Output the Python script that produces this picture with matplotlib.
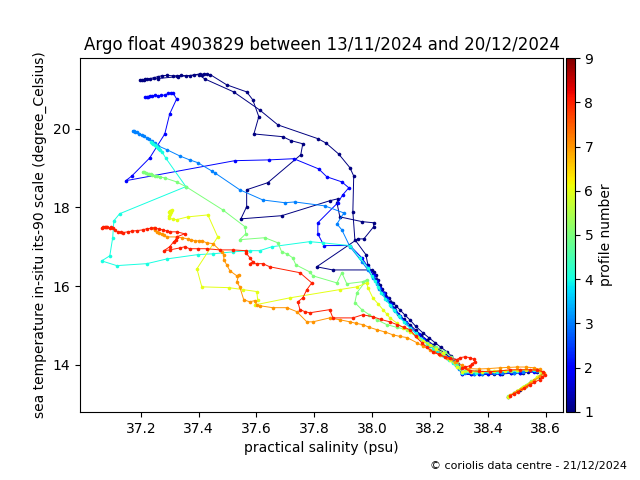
import matplotlib
matplotlib.use("Agg")
import matplotlib.pyplot as plt

# profile 1 (two navy branches), then profiles 2..8: salinity (psu), temperature (degC)
sal_1a = [37.197, 37.205, 37.213, 37.22, 37.232, 37.245, 37.26, 37.273, 37.29, 37.31, 37.324,
          37.34, 37.355, 37.369, 37.385, 37.404, 37.41, 37.418, 37.43, 37.44, 37.497, 37.566,
          37.587, 37.608, 37.591, 37.691, 37.719, 37.76, 37.753, 37.639, 37.566, 37.566, 37.546,
          37.687, 37.853, 37.881, 37.878, 37.888, 37.964, 38.005, 38.005, 37.971, 37.95, 37.808,
          37.864, 37.999, 38.005, 38.012, 38.02, 38.026, 38.035, 38.043, 38.057, 38.071, 38.083,
          38.095, 38.112, 38.13, 38.15, 38.175, 38.195, 38.217, 38.238, 38.258, 38.272, 38.285,
          38.295, 38.30, 38.31, 38.34, 38.37, 38.40, 38.44, 38.48, 38.51, 38.54, 38.57, 38.59,
          38.575, 38.55, 38.53, 38.51, 38.49, 38.47]
temp_1a = [21.246, 21.25, 21.26, 21.27, 21.28, 21.30, 21.33, 21.35, 21.36, 21.35, 21.35,
           21.36, 21.35, 21.35, 21.37, 21.40, 21.38, 21.40, 21.39, 21.38, 21.12, 20.94,
           20.74, 20.31, 19.87, 19.80, 19.70, 19.62, 19.34, 18.63, 18.45, 18.02, 17.71,
           17.79, 18.17, 18.22, 18.12, 17.76, 17.64, 17.61, 17.51, 17.20, 17.20, 16.49,
           16.41, 16.41, 16.35, 16.29, 16.15, 16.03, 15.93, 15.83, 15.70, 15.58, 15.49,
           15.40, 15.27, 15.14, 14.98, 14.81, 14.69, 14.56, 14.44, 14.33, 14.23, 14.13,
           14.02, 13.92, 13.76, 13.75, 13.75, 13.76, 13.77, 13.78, 13.80, 13.81, 13.82, 13.78,
           13.68, 13.56, 13.45, 13.35, 13.27, 13.19]

sal_1b = [37.21, 37.26, 37.33, 37.40, 37.421, 37.521, 37.611, 37.674, 37.812, 37.84, 37.884,
          37.923, 37.936, 37.933, 37.94, 37.978, 37.985, 38.002, 38.01, 38.02, 38.03, 38.045,
          38.06, 38.075, 38.09, 38.11, 38.13, 38.15, 38.17, 38.19, 38.21, 38.23, 38.25, 38.27,
          38.29, 38.31, 38.35, 38.38, 38.42, 38.45, 38.49, 38.52]
temp_1b = [21.24, 21.28, 21.33, 21.38, 21.27, 20.94, 20.48, 20.10, 19.75, 19.64, 19.36,
           19.01, 18.80, 17.89, 17.18, 16.80, 16.54, 16.29, 16.17, 16.05, 15.90, 15.75,
           15.60, 15.45, 15.30, 15.15, 15.02, 14.88, 14.75, 14.62, 14.51, 14.40, 14.29, 14.18,
           14.00, 13.78, 13.76, 13.76, 13.77, 13.77, 13.79, 13.80]

sal_2 = [37.214, 37.22, 37.226, 37.231, 37.24, 37.25, 37.259, 37.27, 37.283, 37.295, 37.305,
         37.311, 37.324, 37.30, 37.283, 37.231, 37.169, 37.148,
         37.525, 37.643, 37.729, 37.815, 37.843, 37.895, 37.919, 37.898, 37.881, 37.812, 37.812,
         37.833, 37.923, 37.964, 37.985, 38.005, 38.015, 38.028, 38.04, 38.05, 38.065, 38.08,
         38.097, 38.115, 38.135, 38.16, 38.18, 38.20, 38.22, 38.245, 38.262, 38.28, 38.295,
         38.30, 38.31, 38.34, 38.37, 38.40, 38.44, 38.48, 38.51, 38.56]
temp_2 = [20.81, 20.80, 20.82, 20.84, 20.84, 20.85, 20.84, 20.85, 20.86, 20.90, 20.91,
          20.92, 20.76, 20.38, 19.87, 19.26, 18.80, 18.68,
          19.19, 19.21, 19.24, 18.98, 18.78, 18.65, 18.50, 18.32, 18.12, 17.61, 17.33,
          17.03, 17.03, 16.72, 16.49, 16.29, 16.12, 15.95, 15.82, 15.70, 15.55, 15.40,
          15.24, 15.08, 14.93, 14.78, 14.65, 14.52, 14.40, 14.28, 14.19, 14.10, 14.01,
          13.92, 13.76, 13.75, 13.75, 13.76, 13.76, 13.78, 13.79, 13.82]

sal_3 = [37.172, 37.176, 37.18, 37.186, 37.195, 37.203, 37.212, 37.221, 37.23, 37.238, 37.248,
         37.259, 37.29, 37.335, 37.369, 37.397, 37.445,
         37.456, 37.542, 37.622, 37.698, 37.732, 37.836, 37.902, 37.878, 37.895, 37.923, 37.964,
         37.985, 38.003, 38.015, 38.025, 38.037, 38.05, 38.065, 38.08, 38.097, 38.115, 38.135,
         38.155, 38.175, 38.20, 38.22, 38.24, 38.26, 38.28, 38.30, 38.32, 38.35, 38.38, 38.42,
         38.45, 38.49, 38.52, 38.57]
temp_3 = [19.95, 19.94, 19.93, 19.92, 19.88, 19.85, 19.81, 19.77, 19.73, 19.70, 19.64,
          19.57, 19.47, 19.31, 19.21, 19.14, 18.93,
          18.88, 18.45, 18.19, 18.12, 18.14, 18.04, 17.86, 17.58, 17.43, 17.00, 16.62,
          16.41, 16.20, 16.06, 15.92, 15.79, 15.65, 15.50, 15.36, 15.21, 15.05, 14.90,
          14.76, 14.62, 14.47, 14.36, 14.25, 14.16, 14.08, 13.90, 13.78, 13.77, 13.77, 13.78,
          13.79, 13.80, 13.82, 13.84]

sal_4 = [37.236, 37.24, 37.244, 37.248, 37.252, 37.256, 37.259, 37.264, 37.268, 37.273, 37.286,
         37.356, 37.127, 37.107, 37.103, 37.093, 37.065,
         37.117, 37.221, 37.29, 37.397, 37.449, 37.518, 37.577, 37.611, 37.653, 37.784, 37.829,
         37.923, 37.957, 37.985, 38.0, 38.01, 38.02, 38.032, 38.045, 38.06, 38.075, 38.092, 38.11,
         38.13, 38.15, 38.17, 38.19, 38.21, 38.23, 38.248, 38.265, 38.28, 38.29, 38.31, 38.36,
         38.43, 38.50, 38.56]
temp_4 = [19.66, 19.64, 19.62, 19.59, 19.56, 19.54, 19.52, 19.48, 19.45, 19.42, 19.26,
          18.53, 17.84, 17.66, 17.23, 16.77, 16.64,
          16.52, 16.57, 16.69, 16.80, 16.82, 16.87, 16.90, 16.90, 17.00, 17.13, 17.10,
          17.03, 16.72, 16.47, 16.25, 16.12, 15.98, 15.83, 15.68, 15.53, 15.38, 15.23, 15.08,
          14.94, 14.80, 14.66, 14.53, 14.41, 14.30, 14.21, 14.12, 14.05, 13.98, 13.80, 13.79,
          13.81, 13.84, 13.86]

sal_5 = [37.207, 37.212, 37.218, 37.224, 37.23, 37.235, 37.24, 37.248, 37.256, 37.266, 37.283,
         37.324, 37.356, 37.483, 37.56, 37.563, 37.542,
         37.629, 37.674, 37.687, 37.705, 37.725, 37.736, 37.784, 37.795, 37.878, 37.895, 37.912,
         37.967, 37.981, 37.947, 37.94, 37.964, 37.99, 38.016, 38.05, 38.085, 38.12, 38.15,
         38.189, 38.22, 38.251, 38.272, 38.292, 38.30, 38.32, 38.36, 38.40, 38.44, 38.48, 38.53,
         38.58, 38.59, 38.57, 38.55, 38.52, 38.50, 38.47]
temp_5 = [18.91, 18.90, 18.88, 18.86, 18.85, 18.84, 18.83, 18.81, 18.79, 18.78, 18.75,
          18.65, 18.53, 17.94, 17.51, 17.33, 17.18,
          17.23, 17.10, 16.87, 16.82, 16.72, 16.54, 16.36, 16.26, 16.08, 16.34, 16.06,
          16.11, 16.16, 15.83, 15.58, 15.40, 15.27, 15.14, 15.02, 14.95, 14.89, 14.73,
          14.56, 14.45, 14.33, 14.20, 14.08, 13.95, 13.84, 13.83, 13.83, 13.84, 13.85, 13.88,
          13.85, 13.80, 13.68, 13.58, 13.44, 13.33, 13.20]

sal_6 = [37.297, 37.30, 37.307, 37.305, 37.30, 37.298, 37.297, 37.31, 37.324, 37.362, 37.432,
         37.466, 37.394, 37.411, 37.504,
         37.553, 37.601, 37.604, 37.594, 37.715, 37.888, 37.947, 37.981, 37.985, 38.002, 38.02,
         38.037, 38.05, 38.061, 38.085, 38.106, 38.13, 38.154, 38.175, 38.199, 38.22, 38.244,
         38.268, 38.292, 38.31, 38.34, 38.38, 38.42, 38.46, 38.50, 38.53, 38.58,
         38.59, 38.57, 38.55, 38.52, 38.50, 38.47]
temp_6 = [17.89, 17.92, 17.94, 17.88, 17.83, 17.79, 17.74, 17.70, 17.69, 17.76, 17.81,
          17.25, 16.44, 15.98, 15.96,
          15.91, 15.86, 15.65, 15.52, 15.70, 15.91, 15.98, 16.08, 15.96, 15.70, 15.55,
          15.40, 15.29, 15.19, 15.06, 14.94, 14.83, 14.71, 14.61, 14.51, 14.40, 14.30,
          14.13, 13.95, 13.82, 13.82, 13.82, 13.84, 13.85, 13.86, 13.87, 13.85,
          13.80, 13.68, 13.56, 13.44, 13.33, 13.19]

sal_7 = [37.245, 37.25, 37.255, 37.263, 37.273, 37.28, 37.29, 37.324, 37.342, 37.362, 37.375,
         37.387, 37.40, 37.411, 37.428, 37.449,
         37.48, 37.487, 37.487, 37.497, 37.508, 37.532, 37.539, 37.532, 37.542, 37.556, 37.577,
         37.594, 37.601, 37.611, 37.656, 37.705, 37.739, 37.774, 37.795, 37.853, 37.89, 37.923,
         37.945, 37.967, 37.99, 38.016, 38.045, 38.071, 38.095, 38.12, 38.154, 38.175, 38.199,
         38.215, 38.234, 38.26, 38.285, 38.31, 38.33, 38.37, 38.40, 38.44, 38.47, 38.50, 38.53,
         38.56, 38.58, 38.595, 38.58, 38.56, 38.545, 38.53, 38.515, 38.50, 38.49, 38.475]
temp_7 = [17.48, 17.43, 17.38, 17.35, 17.33, 17.29, 17.25, 17.25, 17.23, 17.20, 17.18,
          17.15, 17.15, 17.15, 17.10, 17.08,
          16.87, 16.80, 16.67, 16.54, 16.39, 16.26, 16.29, 16.11, 15.98, 15.65, 15.60,
          15.63, 15.52, 15.50, 15.45, 15.45, 15.35, 15.09, 15.09, 15.19, 15.14, 15.09,
          15.05, 15.02, 14.95, 14.89, 14.83, 14.76, 14.72, 14.69, 14.56, 14.47, 14.38,
          14.31, 14.25, 14.16, 14.08, 13.98, 13.90, 13.89, 13.90, 13.92, 13.93, 13.94, 13.94,
          13.92, 13.88, 13.78, 13.70, 13.60, 13.53, 13.45, 13.38, 13.32, 13.27, 13.22]

sal_8 = [37.065, 37.07, 37.075, 37.079, 37.085, 37.093, 37.098, 37.103, 37.11, 37.12, 37.13,
         37.138, 37.155, 37.17, 37.186, 37.207, 37.221, 37.235, 37.248,
         37.262, 37.276, 37.29, 37.30, 37.324, 37.352, 37.324, 37.321, 37.314, 37.30, 37.28, 37.30,
         37.335, 37.352, 37.369, 37.397, 37.428, 37.473, 37.518, 37.563, 37.563, 37.577, 37.587,
         37.577, 37.601, 37.622, 37.646, 37.75, 37.791, 37.774, 37.76, 37.743, 37.75, 37.767,
         37.784, 37.853, 37.864, 37.933, 37.967, 38.002, 38.03, 38.061, 38.085, 38.11, 38.13,
         38.15, 38.171, 38.19, 38.209, 38.23, 38.251, 38.27, 38.292, 38.305, 38.32, 38.337,
         38.35, 38.355, 38.345, 38.337, 38.32, 38.31, 38.337, 38.37, 38.406, 38.44, 38.476,
         38.51, 38.545, 38.57, 38.59, 38.597, 38.588, 38.579, 38.56, 38.545, 38.525, 38.503,
         38.49, 38.476]
temp_8 = [17.48, 17.49, 17.50, 17.51, 17.50, 17.48, 17.49, 17.48, 17.43, 17.38, 17.37,
          17.36, 17.38, 17.40, 17.41, 17.43, 17.46, 17.47, 17.48,
          17.45, 17.43, 17.40, 17.38, 17.38, 17.33, 17.25, 17.18, 17.13, 17.00, 16.90, 16.92,
          16.97, 17.00, 16.95, 16.95, 16.95, 16.92, 16.92, 16.90, 16.85, 16.72, 16.62,
          16.57, 16.57, 16.57, 16.49, 16.34, 16.08, 15.91, 15.70, 15.60, 15.40, 15.35,
          15.32, 15.40, 15.19, 15.19, 15.27, 15.22, 15.15, 15.09, 15.02, 14.95, 14.89,
          14.72, 14.56, 14.44, 14.33, 14.26, 14.20, 14.16, 14.13, 14.18, 14.20, 14.18,
          14.14, 14.08, 14.02, 13.97, 13.94, 13.92, 13.85, 13.83, 13.82, 13.84, 13.87,
          13.87, 13.87, 13.86, 13.82, 13.74, 13.68, 13.62, 13.55, 13.49, 13.40, 13.31,
          13.26, 13.21]

profiles = [
    (1, sal_1a, temp_1a),
    (1, sal_1b, temp_1b),
    (2, sal_2, temp_2),
    (3, sal_3, temp_3),
    (4, sal_4, temp_4),
    (5, sal_5, temp_5),
    (6, sal_6, temp_6),
    (7, sal_7, temp_7),
    (8, sal_8, temp_8),
]

cmap = plt.get_cmap("jet")
norm = matplotlib.colors.Normalize(vmin=1, vmax=9)

fig = plt.figure(figsize=(6.4, 4.8), dpi=100)
ax = fig.add_axes([0.125, 0.142, 0.755, 0.737])
cax = fig.add_axes([0.884, 0.142, 0.014, 0.737])

for num, s, t in profiles:
    c = cmap(norm(num))
    ax.plot(s, t, "-", color=c, linewidth=0.7)
    ax.plot(s, t, "o", color=c, markersize=2.6, markeredgewidth=0)

ax.set_xlim(36.99, 38.66)
ax.set_ylim(12.80, 21.80)
ax.set_xticks([37.2, 37.4, 37.6, 37.8, 38.0, 38.2, 38.4, 38.6])
ax.set_yticks([14, 16, 18, 20])
ax.set_xlabel("practical salinity (psu)")
ax.set_ylabel("sea temperature in-situ its-90 scale (degree_Celsius)")
ax.set_title("Argo float 4903829 between 13/11/2024 and 20/12/2024")

sm = matplotlib.cm.ScalarMappable(norm=norm, cmap=cmap)
cb = fig.colorbar(sm, cax=cax)
cb.set_ticks(range(1, 10))
cb.set_label("profile number")

fig.text(0.98, 0.022, "\u00a9 coriolis data centre - 21/12/2024", ha="right", fontsize=8)

fig.savefig("out.png", dpi=100)
